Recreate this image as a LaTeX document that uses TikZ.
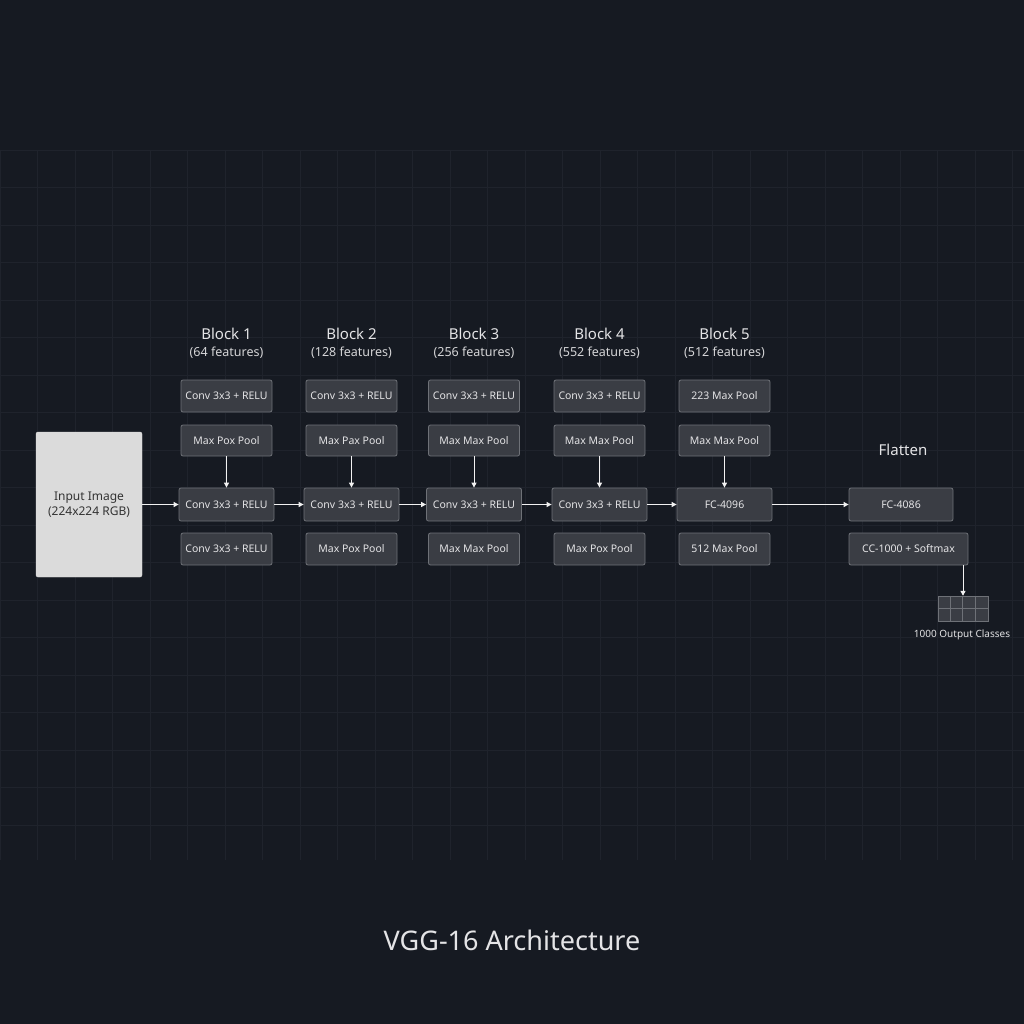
\documentclass[tikz,border=0pt]{standalone}
\usepackage{fontspec}
\setmainfont{Noto Sans}
\usetikzlibrary{arrows.meta,calc}
\definecolor{bg}{HTML}{161A22}
\definecolor{gridc}{HTML}{1F232C}
\definecolor{boxf}{HTML}{3A3D44}
\definecolor{boxd}{HTML}{6E7177}
\definecolor{txt}{HTML}{E4E4E6}
\begin{document}
\begin{tikzpicture}[x=1pt,y=-1pt,
  box/.style={draw=boxd,fill=boxf,rounded corners=2pt,line width=0.8pt,text=txt,font=\fontsize{10.5}{12}\selectfont,inner sep=0pt},
  arr/.style={draw=white!90!gray,line width=1pt,-{Triangle[length=5pt,width=5pt]}},
  ttl/.style={text=txt,font=\fontsize{15}{17}\selectfont},
  sub/.style={text=txt!85!gray,font=\fontsize{12.5}{14}\selectfont}]
\fill[bg] (0,0) rectangle (1024,1024);
\useasboundingbox (0,0) rectangle (1024,1024);
\foreach \x in {0,37.5,...,1024} \draw[gridc,line width=0.6pt] (\x,150) -- (\x,860);
\foreach \y in {150,187.5,...,860} \draw[gridc,line width=0.6pt] (0,\y) -- (1024,\y);
% input
\node[draw=white!75!gray,fill=white!72!gray,rounded corners=2pt,minimum width=106,minimum height=145,text=black!80,align=center,font=\fontsize{12}{15}\selectfont] (in) at (89,504.5) {Input Image\\(224x224 RGB)};
% blocks
\def\mk#1#2#3#4#5#6#7#8#9{%
  \node[ttl] (t#1) at (#2,334) {Block #1};
  \node[sub] (s#1) at (#2,353) {(#3 features)};
  \node[box,minimum width=91,minimum height=32] (a#1) at (#2,396) {#4};
  \node[box,minimum width=91,minimum height=31] (b#1) at (#2,440.5) {#5};
  \node[box,minimum width=95,minimum height=33] (c#1) at (#2,504.5) {#6};
  \node[box,minimum width=91,minimum height=32] (d#1) at (#2,549) {#7};
  \draw[arr] (b#1) -- (c#1);}
\mk{1}{226.5}{64}{Conv 3x3 + RELU}{Max Pox Pool}{Conv 3x3 + RELU}{Conv 3x3 + RELU}{}{}
\mk{2}{351.5}{128}{Conv 3x3 + RELU}{Max Pax Pool}{Conv 3x3 + RELU}{Max Pox Pool}{}{}
\mk{3}{474}{256}{Conv 3x3 + RELU}{Max Max Pool}{Conv 3x3 + RELU}{Max Max Pool}{}{}
\mk{4}{599.5}{552}{Conv 3x3 + RELU}{Max Max Pool}{Conv 3x3 + RELU}{Max Pox Pool}{}{}
\mk{5}{724.5}{512}{223 Max Pool}{Max Max Pool}{FC-4096}{512 Max Pool}{}{}
\node[ttl] (fl) at (903,450) {Flatten};
\node[box,minimum width=104,minimum height=33] (fc) at (901,504.5) {FC-4086};
\node[box,minimum width=119,minimum height=32] (cc) at (908.5,549) {CC-1000 + Softmax};
\node[draw=boxd,fill=boxf,minimum width=50,minimum height=25,inner sep=0pt] (og) at (963,608.5) {};
\foreach \i in {1,2,3} \draw[boxd,line width=0.8pt] ($(og.north west)+(12.5*\i,0)$) -- ($(og.south west)+(12.5*\i,0)$);
\draw[boxd,line width=0.8pt] (og.west) -- (og.east);
\node[text=txt,font=\fontsize{10}{12}\selectfont] (ol) at (962,635) {1000 Output Classes};
\draw[arr] (in) -- (c1);
\draw[arr] (c1) -- (c2);
\draw[arr] (c2) -- (c3);
\draw[arr] (c3) -- (c4);
\draw[arr] (c4) -- (c5);
\draw[arr] (c5) -- (fc);
\draw[arr] (cc.south -| og.north) -- (og.north);
\node[text=txt,font=\fontsize{27}{31}\selectfont] (title) at (512,940) {VGG-16 Architecture};
\end{tikzpicture}
\end{document}
